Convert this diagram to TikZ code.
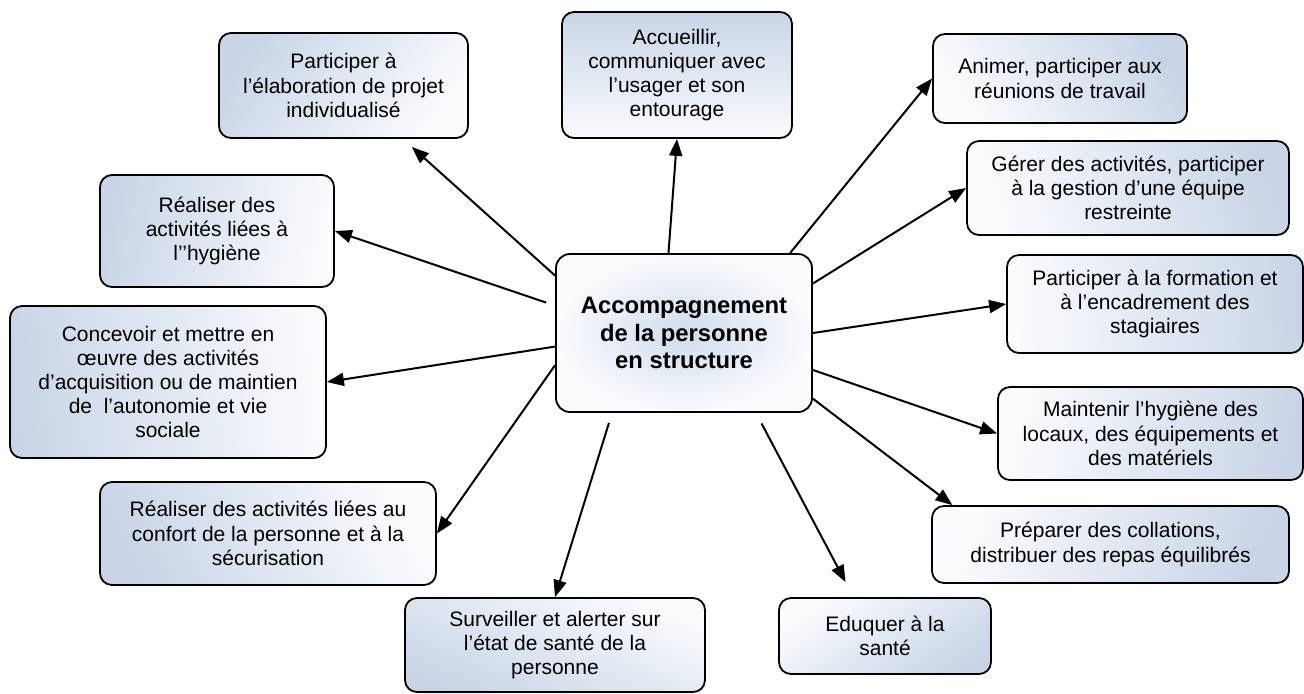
\documentclass[tikz,border=0pt]{standalone}
\usepackage{fontspec}
\setmainfont{Liberation Sans}
\usepackage{tikz}
\usetikzlibrary{arrows.meta}

\definecolor{boxblue}{HTML}{C9D5E7}
\definecolor{boxwhite}{HTML}{FAFBFD}
\definecolor{glowblue}{HTML}{D0DBEC}

\begin{document}
\begin{tikzpicture}[x=0.5pt, y=-0.5pt,
    box/.style={draw=black, line width=0.9pt, rounded corners=6pt, align=center,
        top color=boxblue, bottom color=boxwhite, shading angle=#1, inner sep=0pt,
        font=\fontsize{10.5}{12.1}\selectfont},
    hub/.style={draw=black, line width=0.9pt, rounded corners=7pt, align=center,
        inner color=glowblue, outer color=boxwhite, inner sep=0pt,
        minimum width=128pt, minimum height=79pt,
        font=\fontsize{11.9}{13.8}\selectfont\bfseries},
    link/.style={line width=1pt, -{Triangle[length=8.5pt,width=6.5pt]}}]
  \useasboundingbox (0,0) rectangle (1304,693);

  % central task
  \node[hub] (centre) at (684,333) {Accompagnement\\de la personne\\en structure};

  % activities round it
  \node[box=54, minimum width=124.5pt, minimum height=52.5pt] (projet) at (343.5,85.5)
    {Participer à\\l’élaboration de projet\\individualisé};
  \node[box=0, minimum width=115pt, minimum height=63pt] (accueil) at (677,75)
    {Accueillir,\\communiquer avec\\l’usager et son\\entourage};
  \node[box=-56, minimum width=127pt, minimum height=44.5pt] (reunions) at (1060,78.5)
    {Animer, participer aux\\réunions de travail};
  \node[box=-72, minimum width=161pt, minimum height=47pt] (gestion) at (1128,188)
    {Gérer des activités, participer\\à la gestion d’une équipe\\restreinte};
  \node[box=-86, minimum width=148pt, minimum height=49pt] (formation) at (1155,304)
    {Participer à la formation et\\à l’encadrement des\\stagiaires};
  \node[box=-102, minimum width=152.5pt, minimum height=46.5pt] (locaux) at (1150.5,433.5)
    {Maintenir l’hygiène des\\locaux, des équipements et\\des matériels};
  \node[box=-116, minimum width=178.5pt, minimum height=38.5pt] (repas) at (1110.5,544.5)
    {Préparer des collations,\\distribuer des repas équilibrés};
  \node[box=-146, minimum width=106pt, minimum height=38pt] (education) at (885,636)
    {Eduquer à la\\santé};
  \node[box=157, minimum width=150pt, minimum height=47pt] (sante) at (555,645)
    {Surveiller et alerter sur\\l’état de santé de la\\personne};
  \node[box=116, minimum width=168pt, minimum height=51.5pt] (confort) at (268,533.5)
    {Réaliser des activités liées au\\confort de la personne et à la\\sécurisation};
  \node[box=95, minimum width=158pt, minimum height=76pt] (autonomie) at (168,382)
    {Concevoir et mettre en\\œuvre des activités\\d’acquisition ou de maintien\\de\ \ l’autonomie et vie\\sociale};
  \node[box=78, minimum width=117pt, minimum height=56pt] (hygiene) at (217,231)
    {Réaliser des\\activités liées à\\l’’hygiène};

  % arrows out of the centre
  \foreach \a/\b in {101/accueil.south, 37/reunions.west, 21/gestion.west,
      0/formation.west, -16/locaux.west, -27/repas.166, 194/confort.east,
      186/autonomie.east}
    \draw[link] (centre.\a) -- (\b);
  \draw[link, shorten >=6pt] (centre.156) -- (projet);
  \draw[link, shorten <=4.7pt] (centre.168) -- (hygiene.east);
  \draw[link, shorten <=5.2pt] (centre.228) -- (sante.north);
  \draw[link, shorten <=6pt, shorten >=8.5pt] (centre.-48) -- (education.129);
\end{tikzpicture}
\end{document}
